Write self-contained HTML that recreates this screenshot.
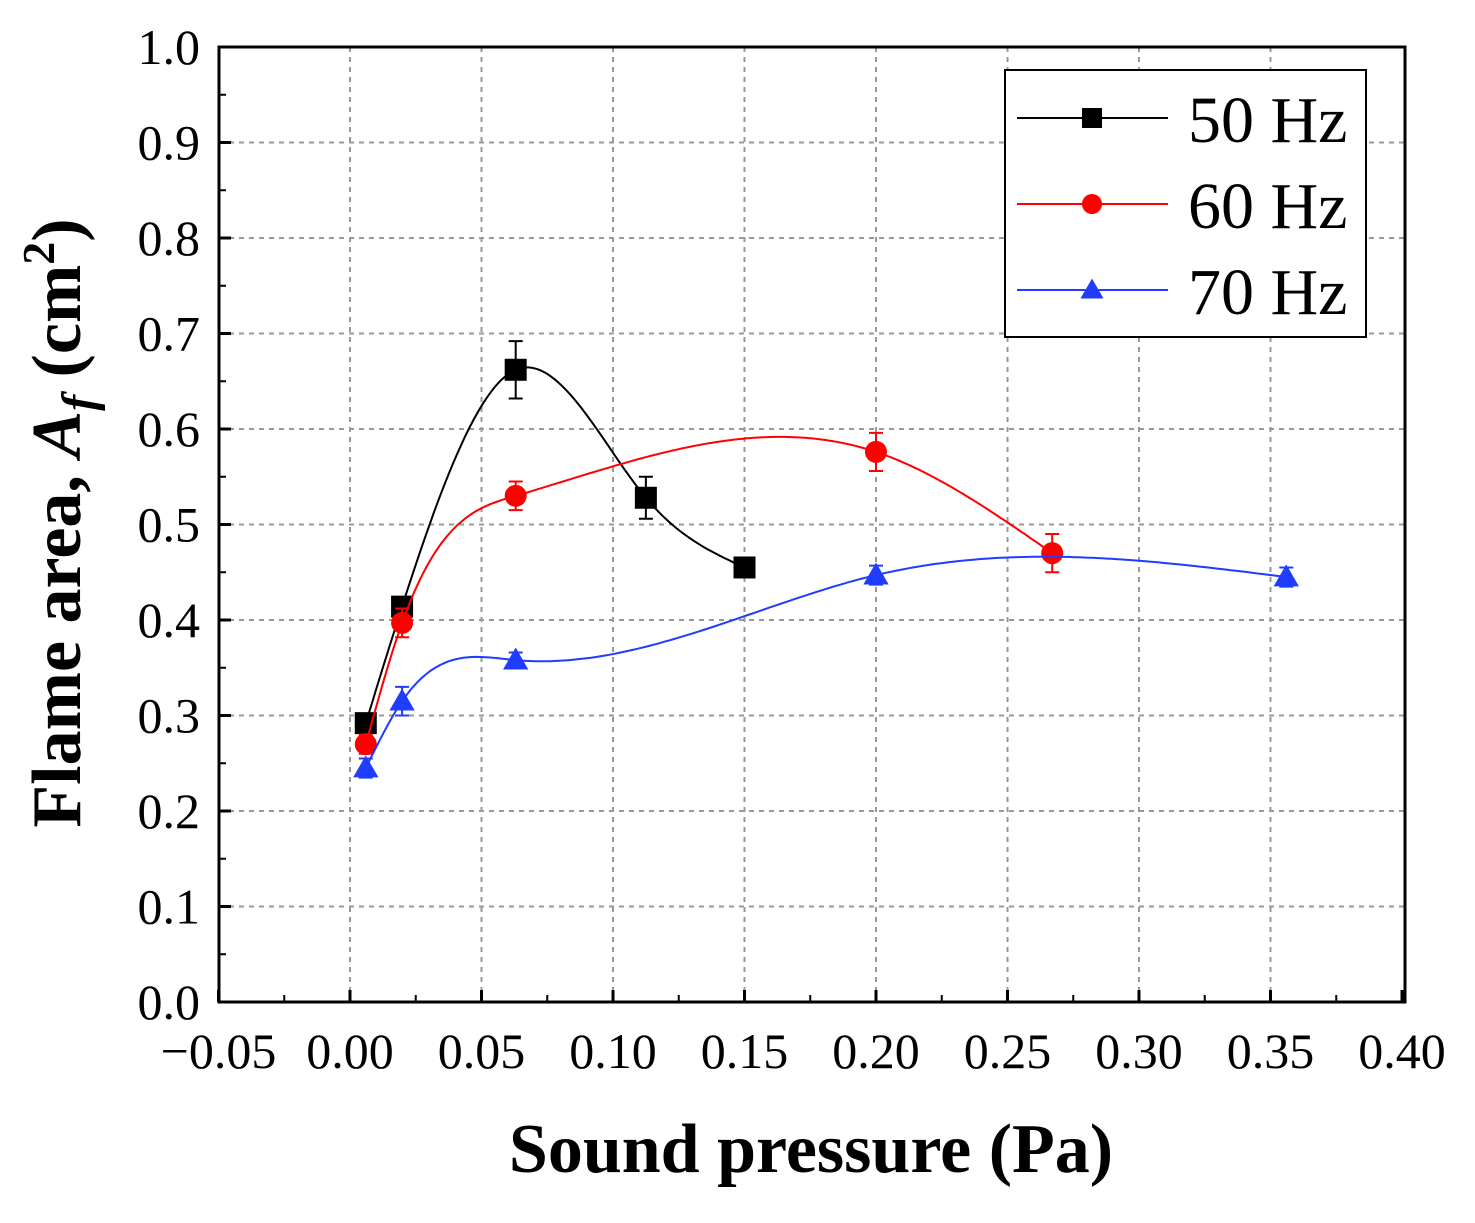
<!DOCTYPE html>
<html><head><meta charset="utf-8"><style>
html,body{margin:0;padding:0;background:#fff;}
svg text{font-family:"Liberation Serif",serif;}
</style></head><body>
<svg id="chart" width="1475" height="1218" viewBox="0 0 1475 1218" xmlns="http://www.w3.org/2000/svg">
<g id="grid"></g>
<g id="series"></g>
<rect x="219" y="47" width="1186" height="955" fill="none" stroke="#000" stroke-width="3"/>
<g id="ticks"></g>
<text x="811" y="1172" text-anchor="middle" font-size="70" font-weight="bold">Sound pressure (Pa)</text>
<text transform="translate(80,523) rotate(-90)" text-anchor="middle" font-size="70" font-weight="bold">Flame area, <tspan font-style="italic">A</tspan><tspan font-style="italic" font-size="48" dy="15">f</tspan><tspan dy="-15"> (cm</tspan><tspan font-size="46" dy="-26">2</tspan><tspan dy="26">)</tspan></text>
<g>
<rect x="1005" y="70" width="361" height="267" fill="#fff" stroke="#000" stroke-width="2"/>
<g id="legend-items"></g>
</g>
</svg>
<script>
const xTicks=[-0.05,0,0.05,0.10,0.15,0.20,0.25,0.30,0.35,0.40];
const xTickLabels=["\u22120.05","0.00","0.05","0.10","0.15","0.20","0.25","0.30","0.35","0.40"];
const yTicks=[0,0.1,0.2,0.3,0.4,0.5,0.6,0.7,0.8,0.9,1.0];
const yTickLabels=["0.0","0.1","0.2","0.3","0.4","0.5","0.6","0.7","0.8","0.9","1.0"];
const seriesNames=["50 Hz","60 Hz","70 Hz"];
const x50=[0.006,0.0198,0.063,0.1125,0.150];
const y50=[0.292,0.414,0.662,0.528,0.455];
const e50=[0.01,0.01,0.03,0.022,0.01];
const x60=[0.006,0.0198,0.063,0.200,0.267];
const y60=[0.270,0.397,0.530,0.576,0.470];
const e60=[0.01,0.015,0.015,0.02,0.02];
const x70=[0.006,0.0198,0.063,0.200,0.356];
const y70=[0.245,0.315,0.358,0.447,0.445];
const e70=[0.01,0.015,0.008,0.01,0.01];
const X=v=>350+(v)*2630;
const Y=v=>1002-v*955;
const NS="http://www.w3.org/2000/svg";
function mk(tag,attrs,parent){const e=document.createElementNS(NS,tag);for(const k in attrs)e.setAttribute(k,attrs[k]);parent.appendChild(e);return e;}
const grid=document.getElementById('grid'),ticks=document.getElementById('ticks'),ser=document.getElementById('series');
xTicks.forEach((t,i)=>{
 if(i>0&&i<xTicks.length-1){const g=mk('line',{x1:X(t),x2:X(t),y1:47,y2:1002,stroke:'#999','stroke-width':2,'stroke-dasharray':'5,5'},grid);
 }
 const tk=mk('line',{x1:X(t),x2:X(t),y1:1002,y2:990,stroke:'#000','stroke-width':3},ticks);
 
 if(i<xTicks.length-1){const m=mk('line',{x1:X(t+0.025),x2:X(t+0.025),y1:1002,y2:995,stroke:'#000','stroke-width':2},ticks);
 }
 const lb=mk('text',{x:X(t),y:1068,'text-anchor':'middle','font-size':50},ticks);lb.textContent=xTickLabels[i];
 
});
yTicks.forEach((t,i)=>{
 if(i>0&&i<yTicks.length-1){const g=mk('line',{x1:219,x2:1405,y1:Y(t),y2:Y(t),stroke:'#999','stroke-width':2,'stroke-dasharray':'5,5'},grid);
 }
 const tk=mk('line',{x1:219,x2:231,y1:Y(t),y2:Y(t),stroke:'#000','stroke-width':3},ticks);
 
 if(i<yTicks.length-1){const m=mk('line',{x1:219,x2:226,y1:Y(t+0.05),y2:Y(t+0.05),stroke:'#000','stroke-width':2},ticks);
 }
 const lb=mk('text',{x:200,y:Y(t)+17,'text-anchor':'end','font-size':50},ticks);lb.textContent=yTickLabels[i];
 
});
function spline(xs,ys){const n=xs.length,h=[],a=[],l=[1],mu=[0],z=[0],c=new Array(n).fill(0),b=[],d=[];
 for(let i=0;i<n-1;i++)h.push(xs[i+1]-xs[i]);
 for(let i=1;i<n-1;i++)a[i]=3/h[i]*(ys[i+1]-ys[i])-3/h[i-1]*(ys[i]-ys[i-1]);
 for(let i=1;i<n-1;i++){l[i]=2*(xs[i+1]-xs[i-1])-h[i-1]*mu[i-1];mu[i]=h[i]/l[i];z[i]=(a[i]-h[i-1]*z[i-1])/l[i];}
 l[n-1]=1;z[n-1]=0;
 for(let j=n-2;j>=0;j--){c[j]=z[j]-mu[j]*c[j+1];b[j]=(ys[j+1]-ys[j])/h[j]-h[j]*(c[j+1]+2*c[j])/3;d[j]=(c[j+1]-c[j])/(3*h[j]);}
 return v=>{let j=0;while(j<n-2&&v>xs[j+1])j++;const t=v-xs[j];return ys[j]+b[j]*t+c[j]*t*t+d[j]*t*t*t;};}
function marker(type,x,y,col,parent,s){let m;
 if(type==='sq')m=mk('rect',{x:x-s,y:y-s,width:2*s,height:2*s,fill:col},parent);
 else if(type==='ci')m=mk('circle',{cx:x,cy:y,r:s,fill:col},parent);
 else m=mk('polygon',{points:`${x},${y-s*1.15} ${x-s*1.15},${y+s*0.85} ${x+s*1.15},${y+s*0.85}`,fill:col},parent);
 return m;}
const defs=[[x50,y50,e50,'#000','sq'],[x60,y60,e60,'#f00','ci'],[x70,y70,e70,'#1f3cff','tr']];
defs.forEach(([xs,ys,es,col,mt],si)=>{
 const g=mk('g',{},ser);
 const f=spline(xs,ys);let d='';const N=200;
 for(let k=0;k<=N;k++){const v=xs[0]+(xs[xs.length-1]-xs[0])*k/N;d+=(k?'L':'M')+X(v).toFixed(1)+','+Y(f(v)).toFixed(1);}
 const p=mk('path',{d:d,fill:'none',stroke:col,'stroke-width':2},g);
 xs.forEach((xv,i)=>{
  const eb=mk('path',{d:`M${X(xv)},${Y(ys[i]-es[i])}V${Y(ys[i]+es[i])}M${X(xv)-7},${Y(ys[i]-es[i])}h14M${X(xv)-7},${Y(ys[i]+es[i])}h14`,stroke:col,'stroke-width':2,fill:'none'},g);
  
  const m=marker(mt,X(xv),Y(ys[i]),col,g,11);
 });
});
const li=document.getElementById('legend-items');
defs.forEach((dd,i)=>{const y=118+i*86;const col=dd[3];
 const ln=mk('line',{x1:1017,x2:1168,y1:y,y2:y,stroke:col,'stroke-width':2},li);
 const m=marker(dd[4],1092,y,col,li,10);
 const t=mk('text',{x:1188,y:y+24,'font-size':66},li);t.textContent=seriesNames[i];
});
</script>
</body></html>
